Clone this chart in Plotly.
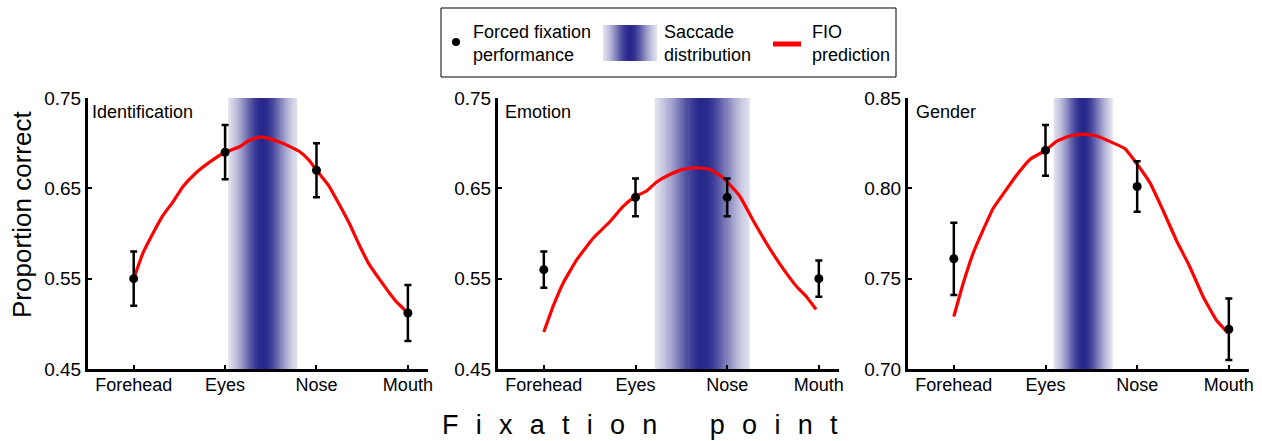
import numpy as np
import plotly.graph_objects as go

W, H = 1262, 441

# ---------------- data ----------------
categories = ["Forehead", "Eyes", "Nose", "Mouth"]
cat_pos = [1, 2, 3, 4]
panel_titles = ["Identification", "Emotion", "Gender"]

ident_perf = [0.550, 0.690, 0.670, 0.512]
ident_err = [0.030, 0.030, 0.030, 0.031]
emot_perf = [0.560, 0.640, 0.640, 0.550]
emot_err = [0.020, 0.021, 0.021, 0.020]
gend_perf = [0.761, 0.821, 0.801, 0.722]
gend_err = [0.020, 0.014, 0.014, 0.017]

ident_fio_x = [1.00, 1.10, 1.21, 1.32, 1.43, 1.54, 1.68, 1.83, 2.00, 2.16, 2.26, 2.39, 2.48, 2.63, 2.81, 2.92, 3.00,
               3.14, 3.25, 3.36, 3.46, 3.57, 3.72, 3.86, 4.00]
ident_fio_y = [0.550, 0.578, 0.600, 0.620, 0.635, 0.652, 0.667, 0.679, 0.690, 0.696, 0.703, 0.707, 0.705, 0.700, 0.691, 0.681, 0.670,
               0.652, 0.632, 0.611, 0.589, 0.567, 0.545, 0.526, 0.512]

emot_fio_x = [1.00, 1.10, 1.21, 1.36, 1.54, 1.72, 1.865, 2.00, 2.12, 2.23, 2.37, 2.52, 2.665, 2.81, 2.94, 3.01,
              3.14, 3.28, 3.43, 3.57, 3.76, 3.865, 3.97]
emot_fio_y = [0.491, 0.519, 0.545, 0.571, 0.595, 0.613, 0.630, 0.641, 0.647, 0.657, 0.665, 0.671, 0.673, 0.671, 0.663, 0.656,
              0.641, 0.615, 0.589, 0.567, 0.541, 0.530, 0.516]

gend_fio_x = [1.00, 1.10, 1.21, 1.32, 1.43, 1.54, 1.68, 1.83, 2.00, 2.12, 2.265, 2.41, 2.56, 2.70, 2.865, 2.99,
              3.14, 3.28, 3.43, 3.57, 3.72, 3.865, 3.99]
gend_fio_y = [0.729, 0.747, 0.764, 0.777, 0.789, 0.797, 0.807, 0.816, 0.821, 0.826, 0.829, 0.830, 0.829, 0.826, 0.822, 0.814,
              0.803, 0.788, 0.771, 0.757, 0.740, 0.727, 0.720]

saccade_center = [2.41, 2.73, 2.41]
saccade_halfwidth = [0.375, 0.52, 0.32]

y_ranges = [[0.45, 0.75], [0.45, 0.75], [0.70, 0.85]]
y_ticks = [[0.45, 0.55, 0.65, 0.75], [0.45, 0.55, 0.65, 0.75], [0.70, 0.75, 0.80, 0.85]]

perf = [ident_perf, emot_perf, gend_perf]
errs = [ident_err, emot_err, gend_err]
fio_x = [ident_fio_x, emot_fio_x, gend_fio_x]
fio_y = [ident_fio_y, emot_fio_y, gend_fio_y]

# ---------------- style ----------------
FONT = "Liberation Sans, Arial, Helvetica, sans-serif"
NAVY = (40, 40, 140)
colorscale = [[0, "rgb(255,255,255)"], [1, "rgb(%d,%d,%d)" % NAVY]]

x_dom_px = [(88, 428), (498, 839), (908, 1249)]
y_dom_px = (98, 369)


def px2x(p):
    return p / W


def px2y(p):
    return 1 - p / H


fig = go.Figure()

for i in range(3):
    ax = "" if i == 0 else str(i + 1)
    xref, yref = "x" + ax, "y" + ax
    # saccade distribution gradient
    c, hw = saccade_center[i], saccade_halfwidth[i]
    n = 90
    edges = np.linspace(c - hw, c + hw, n + 1)
    mids = 0.5 * (edges[:-1] + edges[1:])
    sig = hw / 2.0
    z = np.exp(-0.5 * ((mids - c) / sig) ** 2)[None, :]
    fig.add_trace(go.Heatmap(
        x=edges, y=y_ranges[i], z=z, colorscale=colorscale, zmin=0, zmax=1,
        showscale=False, hoverinfo="skip", zsmooth=False,
        xaxis=xref, yaxis=yref))
    # FIO prediction
    fig.add_trace(go.Scatter(
        x=fio_x[i], y=fio_y[i], mode="lines",
        line=dict(color="#ff0000", width=3.2, shape="spline", smoothing=0.4),
        showlegend=False, xaxis=xref, yaxis=yref))
    # forced fixation performance
    fig.add_trace(go.Scatter(
        x=cat_pos, y=perf[i], mode="markers",
        marker=dict(color="black", size=9),
        error_y=dict(type="data", array=errs[i], color="black", thickness=2.5, width=3.5),
        showlegend=False, xaxis=xref, yaxis=yref))

layout = dict(
    width=W, height=H, autosize=False,
    margin=dict(l=0, r=0, t=0, b=0, pad=0, autoexpand=False),
    paper_bgcolor="white", plot_bgcolor="white",
    showlegend=False,
    font=dict(family=FONT, size=18, color="black"),
)

for i in range(3):
    ax = "" if i == 0 else str(i + 1)
    x0, x1 = x_dom_px[i]
    layout["xaxis" + ax] = dict(
        domain=[px2x(x0), px2x(x1)], anchor="y" + ax, range=[0.5, 4.22],
        tickvals=cat_pos, ticktext=categories, ticks="inside", ticklen=4,
        tickwidth=2, tickcolor="black", showline=True, linecolor="black",
        linewidth=3, showgrid=False, zeroline=False, fixedrange=True,
        automargin=False, ticklabelstandoff=-3,
        tickfont=dict(family=FONT, size=18, color="black"))
    layout["yaxis" + ax] = dict(
        domain=[px2y(y_dom_px[1]), px2y(y_dom_px[0])], anchor="x" + ax,
        range=y_ranges[i], tickvals=y_ticks[i], tickformat=".2f",
        ticks="inside", ticklen=4, tickwidth=2, tickcolor="black",
        showline=True, linecolor="black", linewidth=3, showgrid=False,
        zeroline=False, fixedrange=True, automargin=False,
        tickfont=dict(family=FONT, size=19, color="black"))

annotations = []
title_x_px = [90, 503, 914]
for i in range(3):
    annotations.append(dict(
        text=panel_titles[i], x=px2x(title_x_px[i]), y=px2y(112), xref="paper", yref="paper",
        xanchor="left", yanchor="middle", showarrow=False,
        font=dict(family=FONT, size=18, color="black")))

annotations.append(dict(
    text="Proportion correct", x=px2x(22), y=px2y(215), xref="paper", yref="paper",
    textangle=-90, xanchor="center", yanchor="middle", showarrow=False,
    font=dict(family=FONT, size=26, color="black")))

sp = "\u00a0" * 2 + "\u200a"
word1 = sp.join(list("Fixation"))
word2 = sp.join(list("point"))
annotations.append(dict(
    text=word1 + "\u00a0" * 7 + word2, x=px2x(640), y=0, xref="paper", yref="paper",
    xanchor="center", yanchor="bottom", showarrow=False, borderpad=0,
    font=dict(family=FONT, size=27, color="black")))

# legend texts
leg_texts = [("Forced fixation<br>performance", 471), ("Saccade<br>distribution", 662), ("FIO<br>prediction", 810)]
for t, xp in leg_texts:
    annotations.append(dict(
        text=t, x=px2x(xp), y=px2y(43), xref="paper", yref="paper",
        xanchor="left", yanchor="middle", align="left", showarrow=False,
        font=dict(family=FONT, size=18, color="black")))

layout["annotations"] = annotations

shapes = []
# legend box
shapes.append(dict(type="rect", xref="paper", yref="paper",
                   x0=px2x(441), x1=px2x(896), y0=px2y(77), y1=px2y(8),
                   line=dict(color="black", width=1), fillcolor="white", layer="below"))
# legend dot
shapes.append(dict(type="circle", xref="paper", yref="paper",
                   x0=px2x(452), x1=px2x(460), y0=px2y(46), y1=px2y(38),
                   line=dict(color="black", width=0), fillcolor="black"))
# legend gradient
gx0, gx1, gc = 603, 657, 630
for k in range(gx1 - gx0):
    m = gx0 + k + 0.5
    v = float(np.exp(-0.5 * ((m - gc) / 13.5) ** 2))
    col = tuple(int(round(255 - v * (255 - cc))) for cc in NAVY)
    shapes.append(dict(type="rect", xref="paper", yref="paper",
                       x0=px2x(gx0 + k), x1=px2x(gx0 + k + 1.05), y0=px2y(61), y1=px2y(25),
                       line=dict(width=0), fillcolor="rgb(%d,%d,%d)" % col))
# legend red line
shapes.append(dict(type="line", xref="paper", yref="paper",
                   x0=px2x(773), x1=px2x(801), y0=px2y(44), y1=px2y(44),
                   line=dict(color="#ff0000", width=5)))
layout["shapes"] = shapes

fig.update_layout(**layout)
fig.write_html("out.html")
